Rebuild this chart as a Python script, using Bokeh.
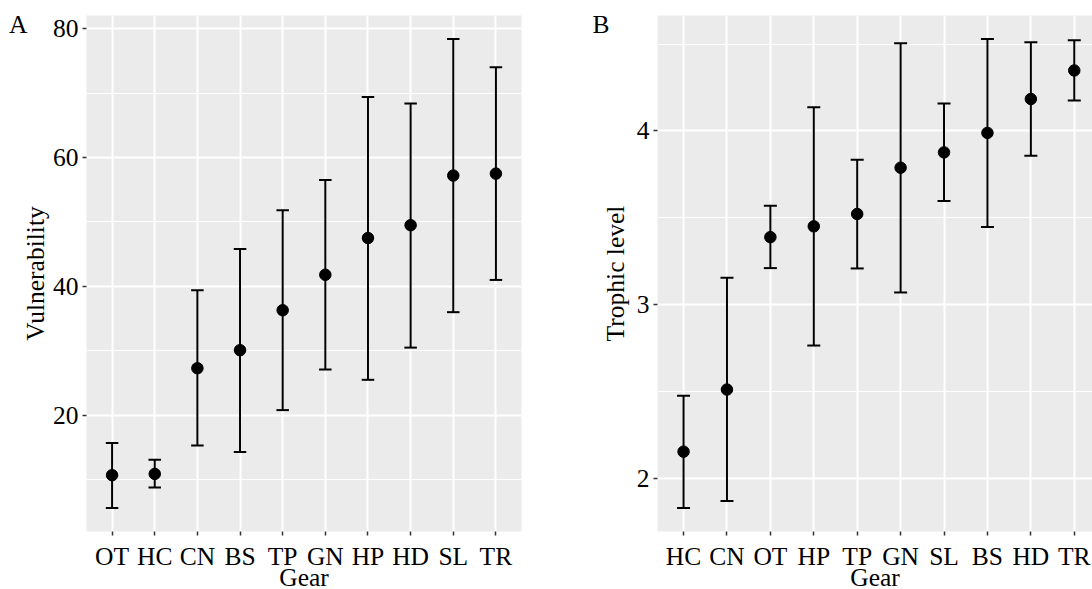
from bokeh.plotting import figure
from bokeh.models import (Range1d, FixedTicker, Whisker, TeeHead, ColumnDataSource,
                          LinearAxis, Title)
from bokeh.layouts import row
from bokeh.embed import file_html
from bokeh.resources import INLINE

# ---- Data ----
gears_a = ["OT", "HC", "CN", "BS", "TP", "GN", "HP", "HD", "SL", "TR"]
vuln_mean = [10.7, 10.9, 27.3, 30.1, 36.3, 41.8, 47.5, 49.5, 57.2, 57.5]
vuln_lower = [5.6, 8.8, 15.3, 14.3, 20.8, 27.1, 25.5, 30.5, 36.0, 41.0]
vuln_upper = [15.7, 13.1, 39.4, 45.8, 51.8, 56.5, 69.4, 68.4, 78.4, 74.0]
vuln_ticks = [20, 40, 60, 80]
vuln_minor = [10, 30, 50, 70]

gears_b = ["HC", "CN", "OT", "HP", "TP", "GN", "SL", "BS", "HD", "TR"]
troph_mean = [2.157, 2.514, 3.39, 3.452, 3.523, 3.789, 3.877, 3.989, 4.184, 4.348]
troph_lower = [1.833, 1.873, 3.212, 2.767, 3.21, 3.072, 3.597, 3.448, 3.858, 4.175]
troph_upper = [2.479, 3.156, 3.571, 4.136, 3.835, 4.505, 4.158, 4.529, 4.510, 4.522]
troph_ticks = [2, 3, 4]
troph_minor = [2.5, 3.5, 4.5]

FONT = "Liberation Serif"
FS = "25.5px"
FRAME_H = 516


def make_panel(gears, mean, lower, upper, ylabel, yticks, yminor, tag,
               width, left, right, xend, head, ylab_standoff, tag_standoff):
    pos = list(range(1, len(gears) + 1))
    src = ColumnDataSource(dict(x=pos, mean=mean, lower=lower, upper=upper))
    lo, hi = min(lower), max(upper)
    pad = (hi - lo) * 0.05
    y0, y1 = lo - pad, hi + pad
    p = figure(width=width, height=589,
               x_range=Range1d(0.4, xend), y_range=Range1d(y0, y1),
               output_backend="svg", toolbar_location=None,
               min_border_left=left, min_border_right=right,
               min_border_top=15, min_border_bottom=58,
               background_fill_color="#EBEBEB", border_fill_color="white",
               outline_line_color=None)

    xt = FixedTicker(ticks=pos)
    yt = FixedTicker(ticks=yticks, minor_ticks=yminor)
    p.xaxis.ticker = xt
    p.yaxis.ticker = yt
    p.xgrid.ticker = xt
    p.ygrid.ticker = yt
    p.xaxis.major_label_overrides = {i: g for i, g in zip(pos, gears)}
    p.yaxis.major_label_overrides = {t: str(t) for t in yticks}

    p.grid.grid_line_color = "white"
    p.grid.grid_line_width = 2
    p.ygrid.minor_grid_line_color = "white"
    p.ygrid.minor_grid_line_width = 1

    p.axis.axis_line_color = None
    p.axis.major_tick_line_color = "#333333"
    p.axis.major_tick_line_width = 1.5
    p.axis.major_tick_in = 0
    p.axis.major_tick_out = 4
    p.axis.minor_tick_line_color = None
    p.axis.major_label_text_font = FONT
    p.axis.major_label_text_font_size = FS
    p.axis.major_label_text_color = "black"
    p.xaxis.major_label_standoff = 6
    p.yaxis.major_label_standoff = 4

    p.yaxis.axis_label = ylabel
    p.yaxis.axis_label_text_font = FONT
    p.yaxis.axis_label_text_font_size = FS
    p.yaxis.axis_label_text_font_style = "normal"
    p.yaxis.axis_label_text_color = "black"
    p.yaxis.axis_label_standoff = ylab_standoff

    # x-axis title, placed below the tick labels
    p.add_layout(Title(text="Gear", align="center", vertical_align="bottom",
                       standoff=-26, text_font=FONT, text_font_size=FS,
                       text_font_style="normal", text_color="black"), "below")

    # panel tag ("A" / "B") placed at the top-left, outside the panel
    y_tag = y1 - (y1 - y0) * 8.6 / FRAME_H
    tag_axis = LinearAxis(ticker=FixedTicker(ticks=[y_tag], minor_ticks=[]),
                          major_label_overrides={y_tag: tag},
                          axis_line_color=None, major_tick_line_color=None,
                          minor_tick_line_color=None, major_tick_in=0, major_tick_out=0,
                          major_label_standoff=tag_standoff,
                          major_label_text_font=FONT, major_label_text_font_size=FS,
                          major_label_text_color="black")
    p.add_layout(tag_axis, "left")

    p.add_layout(Whisker(source=src, base="x", upper="upper", lower="lower",
                         line_color="black", line_width=2,
                         upper_head=TeeHead(size=head, line_color="black", line_width=2),
                         lower_head=TeeHead(size=head, line_color="black", line_width=2)))
    p.scatter("x", "mean", source=src, size=11.5, color="black")
    return p


pa = make_panel(gears_a, vuln_mean, vuln_lower, vuln_upper, "Vulnerability",
                vuln_ticks, vuln_minor, "A", width=575, left=86, right=54,
                xend=10.6, head=12.5, ylab_standoff=0, tag_standoff=-10)
pb = make_panel(gears_b, troph_mean, troph_lower, troph_upper, "Trophic level",
                troph_ticks, troph_minor, "B", width=517, left=82, right=0,
                xend=10.42, head=13, ylab_standoff=4, tag_standoff=-12)

layout = row(pa, pb)
open("out.html", "w").write(file_html(layout, INLINE))
